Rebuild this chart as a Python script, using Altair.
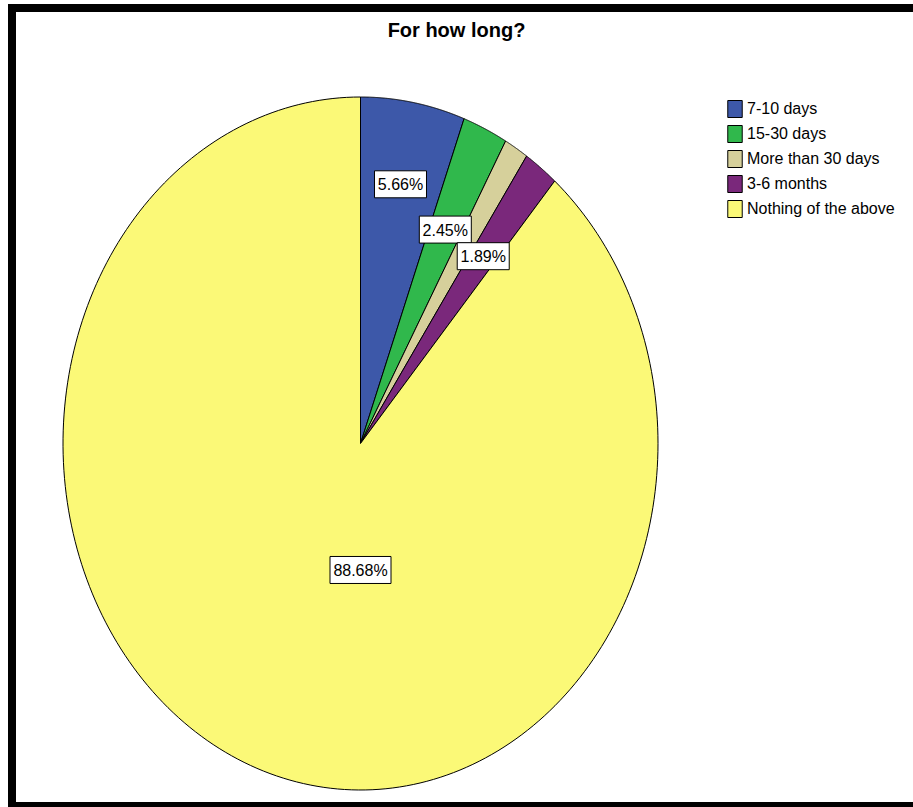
import altair as alt
import pandas as pd

# ---- data ----
categories = ["7-10 days", "15-30 days", "More than 30 days", "3-6 months", "Nothing of the above"]
percents = [5.66, 2.45, 1.32, 1.89, 88.68]
colors = ["#3D58A9", "#30B84C", "#D6D09B", "#7A287B", "#FBF977"]
shown_labels = [True, True, False, True, True]

df = pd.DataFrame({
    "cat": categories,
    "pct": percents,
    "ord": list(range(len(categories))),
    "show": shown_labels,
})

# ---- layout constants ----
VIEW_W, VIEW_H = 901, 798
CX, CY = 348.5, 435.5      # pie centre in view pixels
RX, RY = 297.5, 346.5      # pie half-width / half-height in pixels
N = 240                    # points per slice outline
FONT = "Liberation Sans"

xscale = alt.Scale(domain=[-1, 1], range=[CX - RX, CX + RX])
yscale = alt.Scale(domain=[-1, 1], range=[CY + RY, CY - RY])

base = alt.Chart(df).transform_window(
    cum="sum(pct)", sort=[alt.SortField("ord")], frame=[None, 0]
)

slices = (
    base.transform_calculate(
        a0="2*PI*(datum.cum - datum.pct)/100",
        a1="2*PI*datum.cum/100",
        idx=f"sequence(0, {N + 3})",
    )
    .transform_flatten(["idx"], as_=["k"])
    .transform_calculate(
        ang=f"datum.a0 + (datum.a1 - datum.a0)*(datum.k - 1)/{N}",
        edge=f"datum.k >= 1 && datum.k <= {N + 1}",
    )
    .transform_calculate(
        px="datum.edge ? sin(datum.ang) : 0",
        py="datum.edge ? cos(datum.ang) : 0",
    )
    .mark_line(stroke="black", strokeWidth=1, interpolate="linear")
    .encode(
        x=alt.X("px:Q", scale=xscale, axis=None),
        y=alt.Y("py:Q", scale=yscale, axis=None),
        order=alt.Order("k:Q"),
        detail="cat:N",
        fill=alt.Fill(
            "cat:N",
            scale=alt.Scale(domain=categories, range=colors),
            legend=alt.Legend(
                title=None,
                orient="none",
                legendX=714,
                legendY=92,
                padding=0,
                symbolType="M-0.85,-1L0.85,-1L0.85,1L-0.85,1Z",
                symbolSize=289,
                symbolStrokeColor="black",
                symbolStrokeWidth=1,
                symbolOpacity=1,
                labelFont=FONT,
                labelFontSize=16,
                labelColor="black",
                labelOffset=3,
                rowPadding=3,
                labelLimit=300,
            ),
        ),
    )
)

labels_base = (
    base.transform_filter("datum.show")
    .transform_calculate(
        mid="datum.pct > 50 ? PI : 2*PI*(datum.cum - datum.pct/2)/100",
        rr="datum.pct > 50 ? 0.365 : (datum.pct > 5 ? 0.76 : 0.68)",
        label="format(datum.pct, '.2f') + '%'",
    )
    .transform_calculate(
        lx="datum.rr*sin(datum.mid)",
        ly="datum.rr*cos(datum.mid)",
        hw=f"(length(datum.label)*9 + 7)/2/{RX}",
        hh=f"13.5/{RY}",
    )
    .transform_calculate(
        bx1="datum.lx - datum.hw",
        bx2="datum.lx + datum.hw",
        by1="datum.ly - datum.hh",
        by2="datum.ly + datum.hh",
    )
)

boxes = labels_base.mark_rect(fill="white", stroke="black", strokeWidth=1).encode(
    x=alt.X("bx1:Q", scale=xscale, axis=None),
    x2="bx2:Q",
    y=alt.Y("by1:Q", scale=yscale, axis=None),
    y2="by2:Q",
)

texts = labels_base.mark_text(
    font=FONT, fontSize=16, color="black", baseline="middle", align="center", dy=1
).encode(
    x=alt.X("lx:Q", scale=xscale, axis=None),
    y=alt.Y("ly:Q", scale=yscale, axis=None),
    text="label:N",
)

frame = alt.Chart(pd.DataFrame({"f": [0]})).mark_rect(
    filled=False, stroke="black", strokeWidth=8
).encode(
    x=alt.value(0), x2=alt.value(VIEW_W + 40), y=alt.value(0), y2=alt.value(VIEW_H)
)

chart = (
    alt.layer(frame, slices, boxes, texts)
    .properties(
        width=VIEW_W,
        height=VIEW_H,
        padding={"left": 12, "top": 8, "right": 0, "bottom": 1},
        autosize=alt.AutoSizeParams(type="none"),
        background="white",
        title=alt.TitleParams(
            "For how long?",
            font=FONT,
            fontSize=20,
            fontWeight="bold",
            color="black",
            anchor="middle",
            offset=-37,
            dx=-6,
        ),
    )
    .configure_view(stroke=None)
)

chart.save("out.html", embed_options={"renderer": "svg", "actions": False})
